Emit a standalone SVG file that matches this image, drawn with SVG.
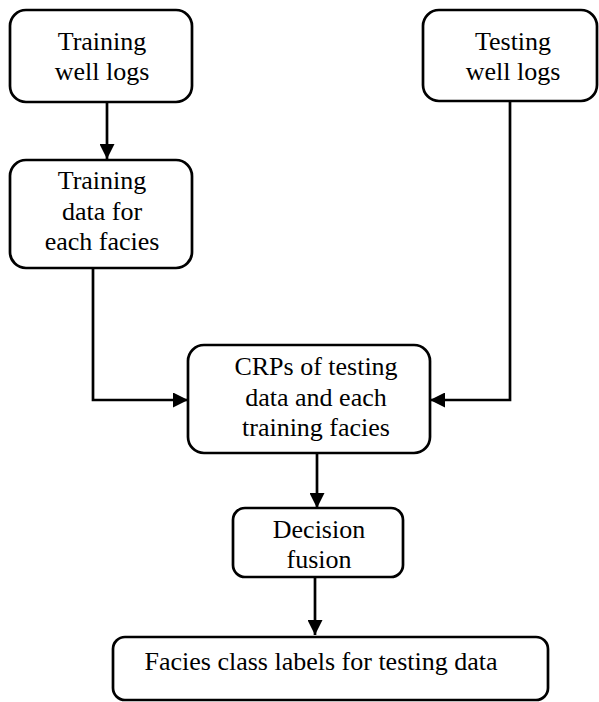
<svg xmlns="http://www.w3.org/2000/svg" width="599" height="702" viewBox="0 0 599 702">
<style>
.box{fill:#fff;stroke:#000;stroke-width:2.7}
.t{font-family:"Liberation Serif","Times New Roman",serif;font-size:26px;fill:#000;text-anchor:middle}
.c{fill:none;stroke:#000;stroke-width:2.7}
</style>
<defs>
<marker id="ah" markerWidth="15" markerHeight="15" refX="15" refY="7.5" orient="auto" markerUnits="userSpaceOnUse" viewBox="0 0 15 15">
<path d="M0,0 L15,7.5 L0,15 Z" fill="#000"/>
</marker>
</defs>
<rect width="599" height="702" fill="#fff"/>
<g id="connectors">
<path class="c" d="M107,102 V159" marker-end="url(#ah)"/>
<path class="c" d="M93,268 V400 H188" marker-end="url(#ah)"/>
<path class="c" d="M510,101 V400 H430" marker-end="url(#ah)"/>
<path class="c" d="M317,453 V508" marker-end="url(#ah)"/>
<path class="c" d="M315,577 V635" marker-end="url(#ah)"/>
</g>
<g id="training-logs">
<rect class="box" x="10" y="10" width="182" height="92" rx="16"/>
<text class="t" x="102" y="50">Training</text>
<text class="t" x="102" y="80">well logs</text>
</g>
<g id="testing-logs">
<rect class="box" x="423" y="10" width="174" height="91" rx="16"/>
<text class="t" x="513" y="50">Testing</text>
<text class="t" x="513" y="80">well logs</text>
</g>
<g id="training-data">
<rect class="box" x="10" y="160" width="182" height="108" rx="16"/>
<text class="t" x="102" y="189">Training</text>
<text class="t" x="102" y="220">data for</text>
<text class="t" x="102" y="250">each facies</text>
</g>
<g id="crps">
<rect class="box" x="188" y="345" width="242" height="108" rx="16"/>
<text class="t" x="316" y="375">CRPs of testing</text>
<text class="t" x="316" y="406">data and each</text>
<text class="t" x="316" y="436">training facies</text>
</g>
<g id="decision">
<rect class="box" x="233" y="508" width="170" height="69" rx="12"/>
<text class="t" x="319" y="538">Decision</text>
<text class="t" x="319" y="568">fusion</text>
</g>
<g id="labels">
<rect class="box" x="113" y="637" width="435" height="63" rx="12"/>
<text class="t" x="321" y="670">Facies class labels for testing data</text>
</g>
</svg>
